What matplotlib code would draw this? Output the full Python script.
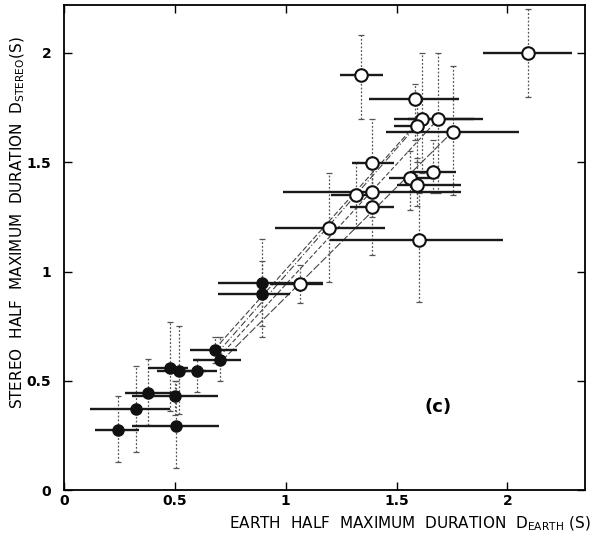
import matplotlib
matplotlib.use("Agg")
import matplotlib.pyplot as plt

matplotlib.rcParams['font.family'] = ['DejaVu Sans']

# filled points (early group)
fill_x = [0.245, 0.327, 0.38, 0.50, 0.505, 0.477, 0.52, 0.60, 0.68, 0.703, 0.893, 0.893]
fill_y = [0.275, 0.371, 0.445, 0.432, 0.294, 0.56, 0.546, 0.546, 0.641, 0.595, 0.946, 0.895]
fill_xlo = [0.14, 0.12, 0.275, 0.305, 0.305, 0.38, 0.42, 0.50, 0.57, 0.58, 0.695, 0.695]
fill_xhi = [0.34, 0.48, 0.50, 0.695, 0.70, 0.56, 0.64, 0.69, 0.78, 0.80, 1.17, 1.02]
fill_ylo = [0.13, 0.175, 0.30, 0.343, 0.10, 0.36, 0.35, 0.45, 0.58, 0.50, 0.75, 0.70]
fill_yhi = [0.43, 0.57, 0.60, 0.50, 0.50, 0.77, 0.75, 0.60, 0.70, 0.70, 1.15, 1.05]

# open points (late group)
open_x = [1.066, 1.195, 1.39, 1.315, 1.39, 1.39, 1.341, 1.60, 1.561, 1.59,
          1.664, 1.583, 1.614, 1.689, 1.59, 1.754, 2.092]
open_y = [0.943, 1.197, 1.297, 1.35, 1.365, 1.498, 1.899, 1.144, 1.426, 1.396,
          1.457, 1.788, 1.698, 1.698, 1.667, 1.637, 2.001]
open_xlo = [0.93, 0.95, 1.29, 1.205, 0.99, 1.30, 1.243, 1.20, 1.465, 1.50,
            1.56, 1.378, 1.49, 1.55, 1.49, 1.453, 1.892]
open_xhi = [1.17, 1.45, 1.49, 1.38, 1.79, 1.49, 1.438, 1.98, 1.66, 1.79,
            1.77, 1.78, 1.89, 1.85, 1.61, 2.05, 2.29]
open_ylo = [0.855, 0.953, 1.075, 1.20, 1.25, 1.30, 1.697, 0.86, 1.28, 1.30,
            1.36, 1.60, 1.45, 1.36, 1.50, 1.35, 1.80]
open_yhi = [1.03, 1.45, 1.52, 1.50, 1.48, 1.70, 2.082, 1.36, 1.55, 1.52,
            1.60, 1.86, 2.00, 2.00, 1.80, 1.94, 2.20]

# dashed fit lines
line_x0 = [0.68, 0.69, 0.70, 0.71]
line_y0 = [0.645, 0.625, 0.61, 0.59]
line_x1 = [1.61, 1.59, 1.69, 1.75]
line_y1 = [1.70, 1.667, 1.70, 1.637]
line_styles = [(0, (5, 2)), (0, (6, 2, 1, 2)), (0, (4, 2)), (0, (7, 2))]

xticks = [0, 0.5, 1, 1.5, 2]
xtick_labels = ["0", "0.5", "1", "1.5", "2"]
yticks = [0, 0.5, 1, 1.5, 2]
ytick_labels = ["0", "0.5", "1", "1.5", "2"]


def errs(v, lo, hi):
    return [[a - b for a, b in zip(v, lo)], [b - a for a, b in zip(v, hi)]]


fig = plt.figure(figsize=(5.97, 5.38), dpi=100)
ax = fig.add_axes([0.107, 0.089, 0.873, 0.902])

# fit lines
for i in range(len(line_x0)):
    ax.plot([line_x0[i], line_x1[i]], [line_y0[i], line_y1[i]], color="#444444",
            linewidth=0.8, linestyle=line_styles[i], zorder=1)

# vertical error bars: dotted with small caps
for xs, ys, lo, hi in [(fill_x, fill_y, fill_ylo, fill_yhi), (open_x, open_y, open_ylo, open_yhi)]:
    eb = ax.errorbar(xs, ys, yerr=errs(ys, lo, hi), fmt='none', ecolor="#555555",
                     elinewidth=0.9, capsize=2, capthick=0.9, zorder=2)
    eb[2][0].set_linestyle((0, (1.5, 1.5)))

# horizontal error bars: solid heavy
ax.errorbar(fill_x, fill_y, xerr=errs(fill_x, fill_xlo, fill_xhi), fmt='none',
            ecolor="#1a1a1a", elinewidth=1.7, zorder=3)
ax.errorbar(open_x, open_y, xerr=errs(open_x, open_xlo, open_xhi), fmt='none',
            ecolor="#1a1a1a", elinewidth=1.7, zorder=3)

ax.plot(fill_x, fill_y, 'o', color="#111111", markersize=8, zorder=4)
ax.plot(open_x, open_y, 'o', markerfacecolor="white", markeredgecolor="#111111",
        markeredgewidth=1.5, markersize=9, zorder=4)

ax.text(1.685, 0.38, "(c)", fontsize=13, fontweight="bold", ha="center", va="center")

ax.set_xlim(0, 2.35)
ax.set_ylim(0, 2.22)
ax.set_xticks(xticks)
ax.set_xticklabels(xtick_labels)
ax.set_yticks(yticks)
ax.set_yticklabels(ytick_labels)
ax.tick_params(direction="in", top=True, right=True, length=6, width=1, labelsize=10)
ax.tick_params(axis="x", pad=3)
ax.tick_params(axis="y", pad=9)
for lab in ax.get_xticklabels() + ax.get_yticklabels():
    lab.set_fontweight("bold")
for s in ax.spines.values():
    s.set_linewidth(1.3)

ax.set_xlabel(r"EARTH  HALF  MAXIMUM  DURATION  $\mathrm{D}_{\mathrm{EARTH}}$ (S)",
              fontsize=11, ha="right")
ax.xaxis.set_label_coords(1.01, -0.05)
ax.set_ylabel(r"STEREO  HALF  MAXIMUM  DURATION  $\mathrm{D}_{\mathrm{STEREO}}$(S)",
              fontsize=11, ha="right")
ax.yaxis.set_label_coords(-0.07, 0.935)

fig.savefig("out.png", dpi=100)
